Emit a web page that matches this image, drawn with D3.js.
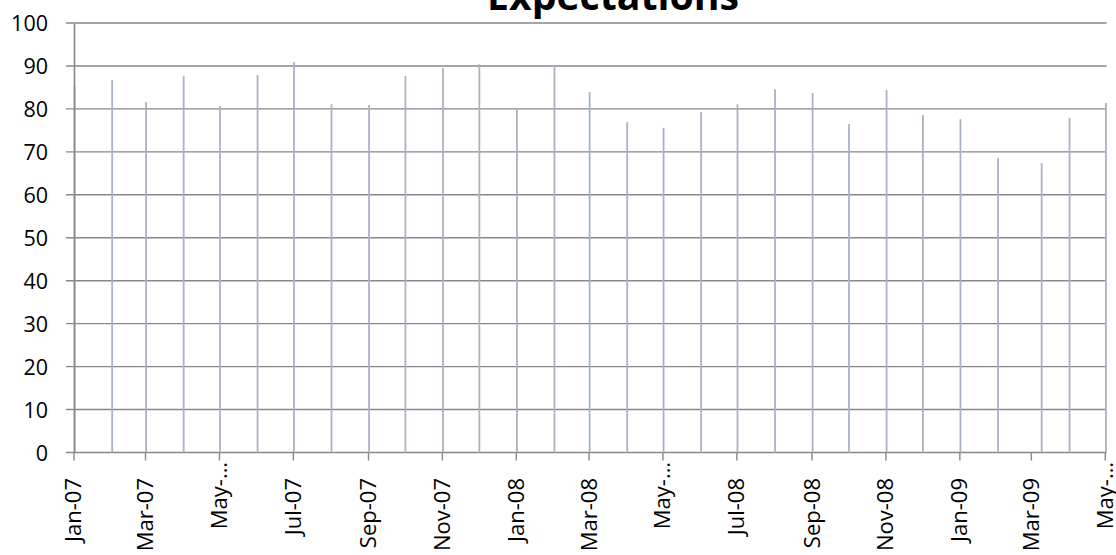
<!DOCTYPE html>
<html>
<head>
<meta charset="utf-8">
<script src="https://cdn.jsdelivr.net/npm/d3@7"></script>
<style>
  html, body { margin: 0; padding: 0; background: #fff; }
  svg { display: block; }
</style>
</head>
<body>
<svg id="chart" width="1116" height="555"></svg>
<script>
const title = "Expectations";
const dates = [
  "2007-01-01","2007-02-01","2007-03-01","2007-04-01","2007-05-01","2007-06-01",
  "2007-07-01","2007-08-01","2007-09-01","2007-10-01","2007-11-01","2007-12-01",
  "2008-01-01","2008-02-01","2008-03-01","2008-04-01","2008-05-01","2008-06-01",
  "2008-07-01","2008-08-01","2008-09-01","2008-10-01","2008-11-01","2008-12-01",
  "2009-01-01","2009-02-01","2009-03-09","2009-04-01","2009-05-01"
];
const values = [
  85.2, 86.7, 81.6, 87.7, 80.7, 87.9,
  90.9, 81.1, 80.9, 87.7, 89.5, 90.4,
  80.2, 90.2, 83.9, 76.9, 75.6, 79.3,
  81.1, 84.6, 83.7, 76.5, 84.4, 78.6,
  77.6, 68.6, 67.4, 77.9, 81.4
];
const tickDates = [
  "2007-01-01","2007-03-01","2007-05-01","2007-07-01","2007-09-01","2007-11-01",
  "2008-01-01","2008-03-01","2008-05-01","2008-07-01","2008-09-01","2008-11-01",
  "2009-01-01","2009-03-01","2009-05-01"
];
const tickLabels = [
  "Jan-07","Mar-07","May-…","Jul-07","Sep-07","Nov-07",
  "Jan-08","Mar-08","May-…","Jul-08","Sep-08","Nov-08",
  "Jan-09","Mar-09","May-…"
];
const yTicks = [0,10,20,30,40,50,60,70,80,90,100];

(function () {
const parse = d3.utcParse("%Y-%m-%d");
const data = dates.map((d, i) => ({ date: parse(d), value: values[i] }));
const ticks = tickDates.map((d, i) => ({ date: parse(d), label: tickLabels[i] }));

const svg = d3.select("#chart");
const mLeft = 74, mRight = 1106.5, mTop = 23, mBottom = 452.5;
const font = "'Open Sans', Lato, sans-serif";
const gridColor = "#878787";

const x = d3.scaleUtc()
  .domain([parse("2007-01-01"), parse("2009-05-02")])
  .range([mLeft, mRight]);
const y = d3.scaleLinear().domain([0, 100]).range([mBottom, mTop]);

// horizontal gridlines (extend left as tick marks)
svg.append("g")
  .selectAll("line")
  .data(yTicks)
  .join("line")
  .attr("x1", mLeft - 8).attr("x2", mRight)
  .attr("y1", d => y(d)).attr("y2", d => y(d))
  .attr("stroke", gridColor).attr("stroke-width", 1.4);

// bars
svg.append("g")
  .selectAll("rect")
  .data(data)
  .join("rect")
  .attr("x", d => x(d.date) - 0.3)
  .attr("width", 1.8)
  .attr("y", d => y(d.value))
  .attr("height", d => y(0) - y(d.value))
  .attr("fill", "#a9b3c3");

// y axis
const yAxis = d3.axisLeft(y).tickValues(yTicks).tickSize(0).tickPadding(26);
const gy = svg.append("g").attr("transform", `translate(${mLeft},0)`).call(yAxis);
gy.select(".domain").attr("stroke", gridColor).attr("stroke-width", 1.6);
gy.selectAll("text")
  .attr("font-family", font).attr("font-size", 21.5).attr("fill", "#000")
  .attr("dy", "0.36em");

// x axis ticks
svg.append("g")
  .selectAll("line")
  .data(ticks)
  .join("line")
  .attr("x1", d => x(d.date)).attr("x2", d => x(d.date))
  .attr("y1", mBottom).attr("y2", mBottom + 8)
  .attr("stroke", gridColor).attr("stroke-width", 1.4);

svg.append("g")
  .selectAll("text")
  .data(ticks)
  .join("text")
  .attr("transform", d => `translate(${x(d.date)},${d.label.endsWith("…") ? 462 : 478}) rotate(-90)`)
  .attr("text-anchor", "end")
  .attr("dy", "0.34em")
  .attr("font-family", font).attr("font-size", 22).attr("fill", "#000")
  .text(d => d.label);

// title
const t = svg.append("text")
  .attr("x", 613).attr("y", 10)
  .attr("text-anchor", "middle")
  .attr("font-family", font).attr("font-weight", "bold")
  .attr("font-size", 32).attr("fill", "#000")
  .text(title);
const w = t.node().getComputedTextLength();
t.attr("font-size", 32 * 252 / w);
})();
</script>
</body>
</html>
